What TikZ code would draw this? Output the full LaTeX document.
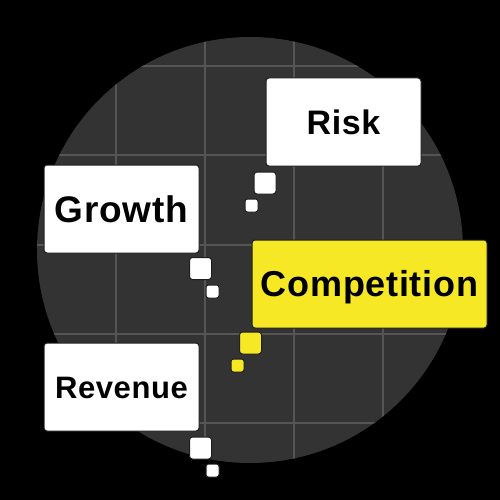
\documentclass[tikz,border=0pt]{standalone}
\usepackage{fontspec}
\setmainfont{Liberation Sans}[LetterSpace=2]
\definecolor{bgc}{HTML}{000000}
\definecolor{disc}{HTML}{333333}
\definecolor{gridc}{HTML}{555555}
\definecolor{boxyellow}{HTML}{F6E824}
\definecolor{edgec}{HTML}{1E1E1E}
\tikzset{
  box/.style={draw=edgec, line width=1pt, fill=white, rounded corners=3pt,
    minimum width=155pt, minimum height=88pt, inner sep=0pt,
    font=\fontsize{#1}{#1}\selectfont\bfseries, text height=0.716*#1 pt, text depth=0pt},
  hbox/.style={box=#1, fill=boxyellow},
  bigdot/.style={draw=edgec, line width=1pt, fill=white, rounded corners=3pt,
    minimum width=22pt, minimum height=22pt, inner sep=0pt},
  smalldot/.style={bigdot, minimum width=13pt, minimum height=13pt, rounded corners=2.5pt},
  hbig/.style={bigdot, fill=boxyellow},
  hsmall/.style={smalldot, fill=boxyellow},
  gridline/.style={draw=gridc, line width=1.5pt}
}
\begin{document}
\begin{tikzpicture}[x=1pt,y=-1pt]
\fill[bgc] (0,0) rectangle (500,500);
\useasboundingbox (0,0) rectangle (500,500);
\fill[disc] (250,250) circle (213);
\begin{scope}
  \clip (250,250) circle (213);
  \foreach \gx in {116,205,294,383} \draw[gridline] (\gx,30) -- (\gx,470);
  \foreach \gy in {66,155,245,334,423} \draw[gridline] (30,\gy) -- (470,\gy);
\end{scope}
% tails
\node[bigdot] (riskd1) at (265,183) {};
\node[smalldot] (riskd2) at (251.5,205.5) {};
\node[bigdot] (growd1) at (200.5,268.5) {};
\node[smalldot] (growd2) at (212.5,291.5) {};
\node[hbig] (compd1) at (250.5,343) {};
\node[hsmall] (compd2) at (237.5,365.5) {};
\node[bigdot] (revd1) at (200.5,448) {};
\node[smalldot] (revd2) at (212.5,470.5) {};
% boxes
\node[box=34] (risk) at (343.5,122) {Risk};
\node[box=37] (growth) at (121.5,209) {Growth};
\node[hbox=36, minimum width=235pt] (comp) at (369.5,284) {Competition};
\node[box=31] (rev) at (121.5,387) {Revenue};
\end{tikzpicture}
\end{document}
